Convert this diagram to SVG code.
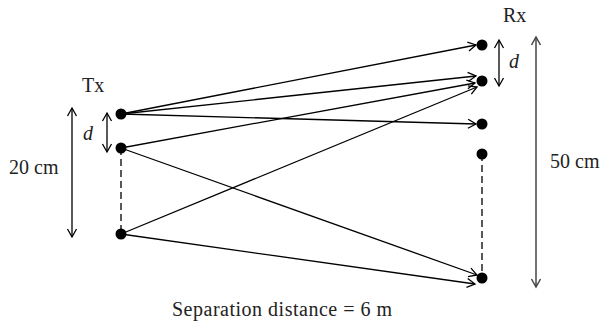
<svg xmlns="http://www.w3.org/2000/svg" width="601" height="324" viewBox="0 0 601 324">
<defs>
<marker id="ah" markerWidth="12" markerHeight="12" viewBox="-10 -6 12 12" refX="0" refY="0" orient="auto-start-reverse" markerUnits="userSpaceOnUse">
<path d="M-8,-4.5 L0,0 L-8,4.5" fill="none" stroke="context-stroke" stroke-width="1.3"/>
</marker>
<marker id="ahb" markerWidth="12" markerHeight="12" viewBox="-10 -6 12 12" refX="0" refY="0" orient="auto-start-reverse" markerUnits="userSpaceOnUse">
<path d="M-8,-4.5 L0,0 L-8,4.5" fill="none" stroke="#000" stroke-width="1.3"/>
</marker>
<marker id="ahg" markerWidth="12" markerHeight="12" viewBox="-10 -6 12 12" refX="0" refY="0" orient="auto-start-reverse" markerUnits="userSpaceOnUse">
<path d="M-8,-4.5 L0,0 L-8,4.5" fill="none" stroke="#444" stroke-width="1.5"/>
</marker>
</defs>
<style>
text{font-family:"Liberation Serif","Times New Roman",serif;font-size:20px;fill:#222}
.ray{stroke:#000;stroke-width:1.3;fill:none;marker-end:url(#ahb)}
.dim{stroke:#000;stroke-width:1.3;fill:none;marker-start:url(#ahb);marker-end:url(#ahb)}
.dash{stroke:#000;stroke-width:1.3;stroke-dasharray:7 4;fill:none}
.dot{fill:#000}
.it{font-style:italic}
</style>
<g id="connectors">
<line class="ray" x1="121" y1="114" x2="476" y2="45"/>
<line class="ray" x1="121" y1="114" x2="476" y2="76"/>
<line class="ray" x1="121" y1="114" x2="476" y2="124"/>
<line class="ray" x1="121" y1="148" x2="475" y2="83"/>
<line class="ray" x1="121" y1="148" x2="477" y2="275"/>
<line class="ray" x1="121" y1="234" x2="477" y2="87"/>
<line class="ray" x1="121" y1="234" x2="475" y2="284"/>
<line class="dash" x1="121" y1="148" x2="121" y2="234"/>
<line class="dash" x1="482" y1="154" x2="482" y2="278"/>
</g>
<g id="dimensions">
<line class="dim" x1="72" y1="108" x2="72" y2="237"/>
<line class="dim" x1="107" y1="113" x2="107" y2="152"/>
<line class="dim" x1="499" y1="40" x2="499" y2="86"/>
<line x1="536" y1="37" x2="536" y2="287" stroke="#444" stroke-width="1.5" marker-start="url(#ahg)" marker-end="url(#ahg)"/>
</g>
<g id="tx1"><circle class="dot" cx="121" cy="114" r="5.5"/></g>
<g id="tx2"><circle class="dot" cx="121" cy="148" r="5.5"/></g>
<g id="tx3"><circle class="dot" cx="121" cy="234" r="5.5"/></g>
<g id="rx1"><circle class="dot" cx="482" cy="45" r="5.5"/></g>
<g id="rx2"><circle class="dot" cx="482" cy="81" r="5.5"/></g>
<g id="rx3"><circle class="dot" cx="482" cy="124" r="5.5"/></g>
<g id="rx4"><circle class="dot" cx="482" cy="154" r="5.5"/></g>
<g id="rx5"><circle class="dot" cx="482" cy="278" r="5.5"/></g>
<g id="labels">
<text x="82" y="92">Tx</text>
<text x="503" y="22">Rx</text>
<text class="it" x="83" y="140">d</text>
<text class="it" x="509" y="68">d</text>
<text x="9" y="174">20 cm</text>
<text x="550" y="168">50 cm</text>
<text x="172" y="316" textLength="220">Separation distance = 6 m</text>
</g>
</svg>
